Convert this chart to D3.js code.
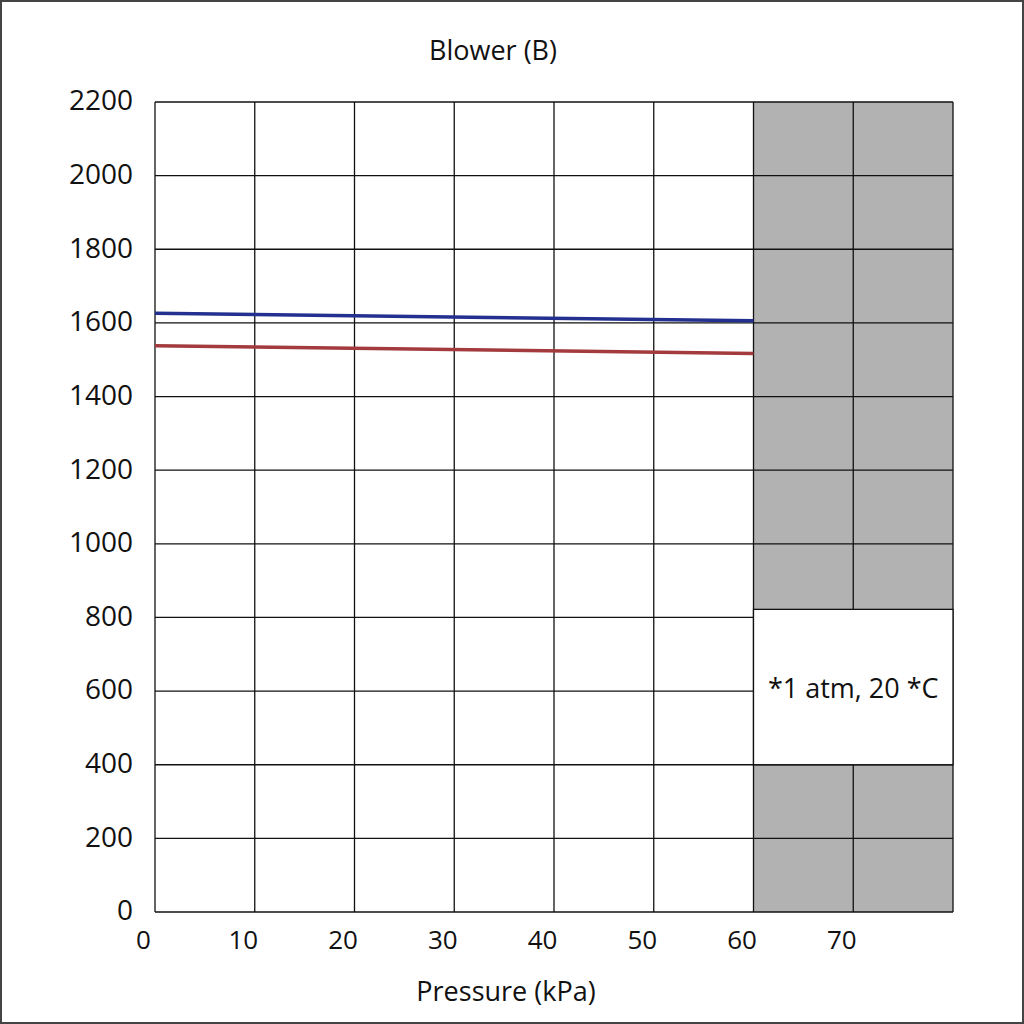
<!DOCTYPE html>
<html>
<head>
<meta charset="utf-8">
<script src="https://cdn.jsdelivr.net/npm/d3@7"></script>
<style>
  body { margin: 0; background: #fff; }
  text { font-family: "Open Sans", "Noto Sans", sans-serif; fill: #111; }
</style>
</head>
<body>
<div id="vis"></div>
<script>
// Data
const pressure = [0, 60]
const blueFlow = [1626, 1606]
const redFlow = [1538, 1517]
const xTicks = [0, 10, 20, 30, 40, 50, 60, 70]
const yTicks = [0, 200, 400, 600, 800, 1000, 1200, 1400, 1600, 1800, 2000, 2200]
const shadedRange = [60, 80]
const noteRange = [400, 822]
const noteText = '*1 atm, 20 *C'

const width = 1024
const height = 1024
const margin = { left: 155, right: 71, top: 102, bottom: 112 }
const font = '"Open Sans", "Noto Sans", sans-serif'

const svg = d3.select('#vis')
  .append('svg')
  .attr('width', width)
  .attr('height', height)

// outer frame
svg.append('rect')
  .attr('x', 1).attr('y', 1)
  .attr('width', width - 2).attr('height', height - 2)
  .attr('fill', '#fff')
  .attr('stroke', '#444')
  .attr('stroke-width', 2)

const x = d3.scaleLinear().domain([0, 80]).range([margin.left, width - margin.right])
const y = d3.scaleLinear().domain([0, 2200]).range([height - margin.bottom, margin.top])

// shaded region on the right
svg.append('rect')
  .attr('x', x(shadedRange[0]))
  .attr('y', y(2200))
  .attr('width', x(shadedRange[1]) - x(shadedRange[0]))
  .attr('height', y(0) - y(2200))
  .attr('fill', '#b2b2b2')

// grid lines
const grid = svg.append('g').attr('class', 'grid')
grid.selectAll('.hline')
  .data(yTicks)
  .enter()
  .append('line')
  .attr('x1', x(0)).attr('x2', x(80))
  .attr('y1', d => y(d)).attr('y2', d => y(d))
  .attr('stroke', '#111')
  .attr('stroke-width', 1.3)

grid.selectAll('.vline')
  .data(xTicks.concat([80]))
  .enter()
  .append('line')
  .attr('x1', d => x(d)).attr('x2', d => x(d))
  .attr('y1', y(0)).attr('y2', y(2200))
  .attr('stroke', '#111')
  .attr('stroke-width', 1.3)

// white note box
svg.append('rect')
  .attr('x', x(shadedRange[0]))
  .attr('y', y(noteRange[1]))
  .attr('width', x(shadedRange[1]) - x(shadedRange[0]))
  .attr('height', y(noteRange[0]) - y(noteRange[1]))
  .attr('fill', '#fff')
  .attr('stroke', '#111')
  .attr('stroke-width', 1.3)

svg.append('text')
  .attr('x', (x(shadedRange[0]) + x(shadedRange[1])) / 2)
  .attr('y', (y(noteRange[0]) + y(noteRange[1])) / 2)
  .attr('text-anchor', 'middle')
  .attr('dominant-baseline', 'central')
  .attr('font-size', 27)
  .text(noteText)

// lines
const line = d3.line()
  .x((d, i) => x(pressure[i]))
  .y(d => y(d))

svg.append('path')
  .datum(redFlow)
  .attr('d', line)
  .attr('fill', 'none')
  .attr('stroke', '#a33a3d')
  .attr('stroke-width', 3.5)

svg.append('path')
  .datum(blueFlow)
  .attr('d', line)
  .attr('fill', 'none')
  .attr('stroke', '#23308f')
  .attr('stroke-width', 3.5)

// y axis labels
const yAxis = svg.append('g')
  .attr('transform', `translate(${margin.left - 22},0)`)
  .call(d3.axisLeft(y).tickValues(yTicks).tickFormat(d3.format('d')).tickSize(0).tickPadding(0))
yAxis.select('.domain').remove()
yAxis.selectAll('text')
  .attr('font-size', 28)
  .attr('font-family', font)
  .attr('fill', '#111')
  .attr('dy', '0.28em')

// x axis labels
const xAxis = svg.append('g')
  .attr('transform', `translate(-12,${height - margin.bottom + 19})`)
  .call(d3.axisBottom(x).tickValues(xTicks).tickSize(0).tickPadding(0))
xAxis.select('.domain').remove()
xAxis.selectAll('text')
  .attr('font-size', 26)
  .attr('font-family', font)
  .attr('fill', '#111')

// title and axis title
svg.append('text')
  .attr('x', 493).attr('y', 60)
  .attr('text-anchor', 'middle')
  .attr('font-size', 27)
  .text('Blower (B)')

svg.append('text')
  .attr('x', 506).attr('y', 1001)
  .attr('text-anchor', 'middle')
  .attr('font-size', 27)
  .text('Pressure (kPa)')
</script>
</body>
</html>
